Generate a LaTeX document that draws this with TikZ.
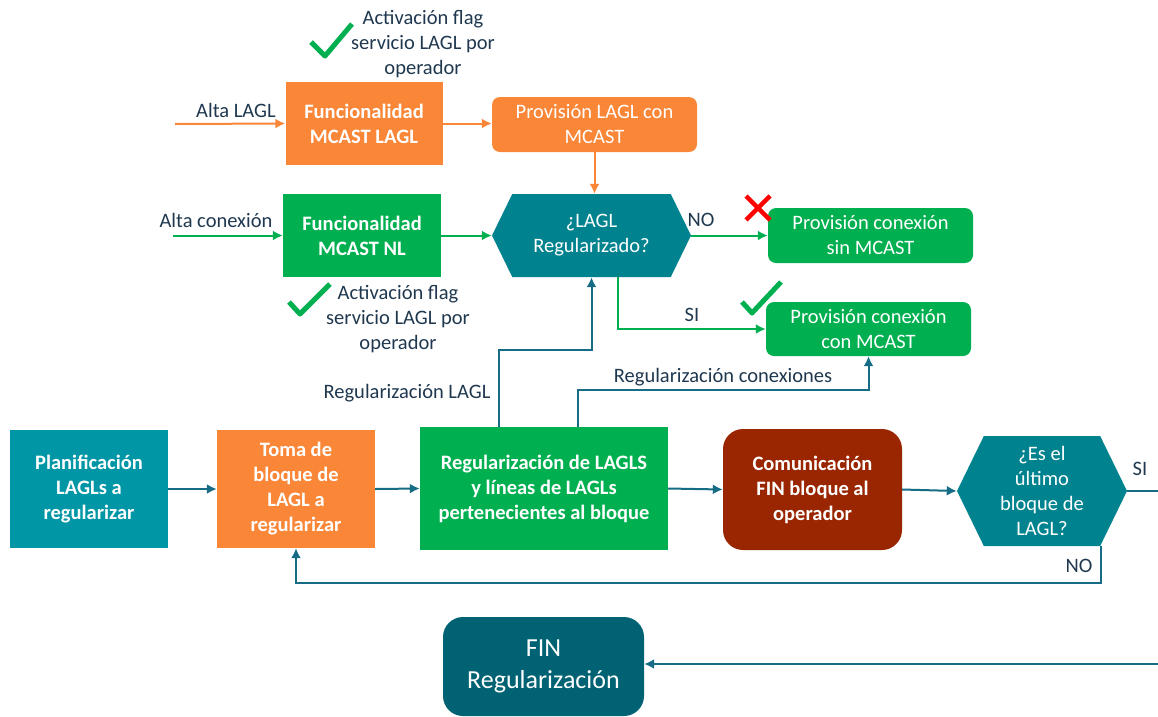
\documentclass[tikz,border=0pt]{standalone}
\usepackage{fontspec}
\setmainfont{Carlito}
\usepackage{xcolor}
\usepackage{tikz}
\usetikzlibrary{calc}
\usetikzlibrary{shapes,arrows,arrows.meta,positioning}
\usetikzlibrary{shapes.symbols}

\definecolor{naranja}{RGB}{250,134,56}
\definecolor{verde}{RGB}{0,176,80}
\definecolor{turquesa}{RGB}{0,150,166}
\definecolor{petroleo}{RGB}{0,131,143}
\definecolor{granate}{RGB}{153,38,0}
\definecolor{azulfin}{RGB}{0,98,115}
\definecolor{linea}{RGB}{22,108,132}
\definecolor{texto}{RGB}{31,56,79}

\begin{document}
\begin{tikzpicture}[x=1pt,y=-1pt,
		caja/.style={rectangle,text=white,align=center,inner sep=0pt,font=\fontsize{20.5}{25}\selectfont},
		negrita/.style={caja,font=\fontsize{20.5}{25}\selectfont\bfseries},
		hexa/.style={caja,signal,signal to=west and east,signal pointer angle=128},
		etiqueta/.style={text=texto,align=center,inner sep=0pt,font=\fontsize{20.5}{25}\selectfont},
		flechaN/.style={-{Latex[length=10pt,width=10pt]},line width=2pt,naranja},
		flechaV/.style={-{Latex[length=10pt,width=10pt]},line width=2pt,verde},
		flechaA/.style={-{Latex[length=10pt,width=10pt]},line width=2pt,linea}]
		\useasboundingbox (0,0) rectangle (1158,716);
		% parte superior
		\node[negrita,fill=naranja,minimum width=157pt,minimum height=83pt] (fmlagl) at (364,123.5) {Funcionalidad\\MCAST LAGL};
		\node[negrita,fill=verde,minimum width=158pt,minimum height=83pt] (fmnl) at (362,235.5) {Funcionalidad\\MCAST NL};
		\node[caja,fill=naranja,rounded corners=8pt,minimum width=205pt,minimum height=55pt] (plagl) at (594.5,124.5) {Provisión LAGL con\\MCAST};
		\node[hexa,fill=petroleo,minimum width=199pt,minimum height=83pt] (hexlagl) at (591.5,235.5) {¿LAGL\\Regularizado?};
		\node[caja,fill=verde,rounded corners=8pt,minimum width=205pt,minimum height=55pt] (psin) at (870.5,235.5) {Provisión conexión\\sin MCAST};
		\node[caja,fill=verde,rounded corners=8pt,minimum width=205pt,minimum height=54pt] (pcon) at (868.5,329) {Provisión conexión\\con MCAST};
		\node[etiqueta] (flag1) at (423,44) {Activación flag\\servicio LAGL por\\operador};
		\node[etiqueta] (flag2) at (398,319.5) {Activación flag\\servicio LAGL por\\operador};
		\node[etiqueta] (altalagl) at (236,110) {Alta LAGL};
		\node[etiqueta] (altacon) at (216,220) {Alta conexión};
		\node[etiqueta] (no1) at (701,220) {NO};
		\node[etiqueta] (si1) at (692,315) {SI};
		\node[etiqueta] (reglagl) at (407,393) {Regularización LAGL};
		\node[etiqueta] (regcon) at (723,377) {Regularización conexiones};
		\coordinate (inlagl) at (175,124);
		\coordinate (incon) at (173,235.5);
		% marcas
		\draw[verde,line width=5pt,line join=round] (311,42) -- (325,56) -- (352,24);
		\draw[verde,line width=5pt,line join=round] (289,302) -- (300,314) -- (330,284);
		\draw[verde,line width=5pt,line join=round] (742,302) -- (752,313) -- (781,282);
		\draw[red,line width=4.5pt] (746,196) -- (770,220) (746,220) -- (770,196);
		% conexiones superiores
		\draw[flechaN] (inlagl) -- (fmlagl.west);
		\draw[flechaN] (fmlagl.east) -- (plagl.west |- fmlagl.east);
		\draw[flechaN] (plagl.south) -- (plagl.south |- hexlagl.north);
		\draw[flechaV] (incon) -- (fmnl.west);
		\draw[flechaV] (fmnl.east) -- (hexlagl.west);
		\draw[flechaV] (hexlagl.east) -- (psin.west);
		\draw[flechaV] ($(hexlagl.south)+(26.5,0)$) |- (pcon.west);
		% parte inferior
		\node[negrita,fill=turquesa,minimum width=158pt,minimum height=118pt] (plan) at (89,489) {Planificación\\LAGLs a\\regularizar};
		\node[negrita,fill=naranja,minimum width=158pt,minimum height=118pt] (toma) at (296,489) {Toma de\\bloque de\\LAGL a\\regularizar};
		\node[negrita,fill=verde,minimum width=248pt,minimum height=123pt] (regb) at (544,488.5) {Regularización de LAGLS\\y líneas de LAGLs\\pertenecientes al bloque};
		\node[negrita,fill=granate,rounded corners=20pt,minimum width=179pt,minimum height=121pt] (comu) at (812.5,489.5) {Comunicación\\FIN bloque al\\operador};
		\node[hexa,fill=petroleo,minimum width=170pt,minimum height=110pt] (hexult) at (1042,491) {¿Es el\\último\\bloque de\\LAGL?};
		\node[caja,fill=azulfin,rounded corners=20pt,minimum width=201pt,minimum height=99pt,font=\fontsize{26}{32}\selectfont] (fin) at (543.5,666.5) {FIN\\Regularización};
		\node[etiqueta] (si2) at (1140,469) {SI};
		\node[etiqueta] (no2) at (1079,566) {NO};
		\coordinate (borde1) at (1158,491);
		\coordinate (borde2) at (1158,664);
		% conexiones inferiores
		\draw[flechaA] (plan.east) -- (toma.west);
		\draw[flechaA] (toma.east) -- (regb.west);
		\draw[flechaA] (regb.east) -- (comu.west);
		\draw[flechaA] (comu.east) -- (hexult.west);
		\draw[line width=2pt,linea] (hexult.east) -- (borde1);
		\draw[flechaA] ($(hexult.south)+(59,0)$) -- ++(0,37) -| (toma.south);
		\draw[flechaA] (borde2) -- (borde2 -| fin.east);
		\draw[flechaA] ($(regb.north)+(-45,0)$) -- ++(0,-77) -| (hexlagl.south);
		\draw[flechaA] ($(regb.north)+(34,0)$) -- ++(0,-37) -| (pcon.south);
	\end{tikzpicture}
\end{document}
